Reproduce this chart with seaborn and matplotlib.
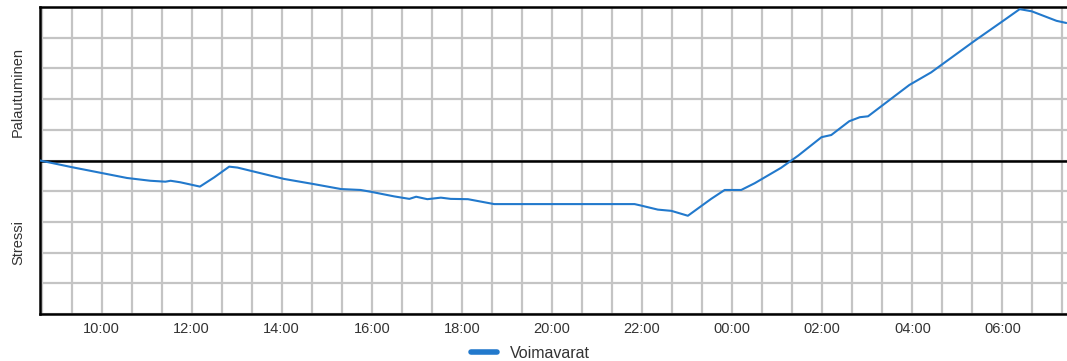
import pandas as pd
import matplotlib
matplotlib.use("Agg")
import matplotlib.pyplot as plt
from matplotlib.lines import Line2D
import seaborn as sns

# time stamps (day 1 = 2023-01-01, day 2 = 2023-01-02) and resource level (-5..5)
times = ["01 08:38", "01 09:21", "01 10:34", "01 11:05", "01 11:25", "01 11:32",
         "01 11:45", "01 12:11", "01 12:30", "01 12:50", "01 13:01", "01 14:03",
         "01 14:43", "01 15:19", "01 15:45", "01 15:59", "01 16:30", "01 16:50",
         "01 16:59", "01 17:14", "01 17:32", "01 17:45", "01 18:08", "01 18:43",
         "01 21:50", "01 21:59", "01 22:21", "01 22:39", "01 23:01", "01 23:32",
         "01 23:50", "02 00:12", "02 00:30", "02 01:05", "02 01:28", "02 01:59",
         "02 02:12", "02 02:36", "02 02:50", "02 03:01", "02 03:36", "02 03:56",
         "02 04:25", "02 05:23", "02 06:01", "02 06:23", "02 06:39", "02 07:12",
         "02 07:25"]
voimavarat = [0.00, -0.22, -0.57, -0.66, -0.69, -0.66,
              -0.71, -0.85, -0.55, -0.20, -0.23, -0.60,
              -0.77, -0.93, -0.96, -1.02, -1.17, -1.25,
              -1.18, -1.26, -1.21, -1.25, -1.26, -1.42,
              -1.42, -1.47, -1.60, -1.64, -1.80, -1.25,
              -0.96, -0.96, -0.74, -0.24, 0.16, 0.76,
              0.83, 1.28, 1.41, 1.44, 2.09, 2.46,
              2.87, 3.90, 4.55, 4.93, 4.86, 4.55,
              4.48]

df = pd.DataFrame({
    "aika": pd.to_datetime(["2023-01-" + t for t in times]),
    "Voimavarat": voimavarat,
})

sns.set_style("white")
plt.rcParams["font.family"] = ["Liberation Sans", "DejaVu Sans"]

line_color = "#2279cc"
fig = plt.figure(figsize=(10.67, 3.61), dpi=100)
ax = fig.add_axes([40 / 1067, 47 / 361, 1 - 40 / 1067, 307 / 361])

sns.lineplot(data=df, x="aika", y="Voimavarat", ax=ax, color=line_color,
             linewidth=1.5, legend=False, zorder=3)

# grid every 40 minutes, labels on even hours
grid_times = pd.date_range("2023-01-01 08:40", "2023-01-02 07:20", freq="40min")
ax.set_xticks(grid_times)
ax.set_xticklabels([t.strftime("%H:%M") if (t.minute == 0 and t.hour % 2 == 0) else ""
                    for t in grid_times])
ax.minorticks_off()
ax.set_yticks(range(-5, 6))
ax.set_yticklabels([])
ax.grid(True, which="major", color="#c4c4c4", linewidth=1.6)
ax.set_axisbelow(True)
ax.axhline(0, color="black", linewidth=1.8, zorder=2)

ax.set_xlim(pd.Timestamp("2023-01-01 08:38"), pd.Timestamp("2023-01-02 07:26"))
ax.set_ylim(-5, 5)
ax.set_xlabel("")
ax.set_ylabel("")

for side in ["top", "left", "bottom"]:
    ax.spines[side].set_color("black")
    ax.spines[side].set_linewidth(1.8)
ax.spines["right"].set_visible(False)
ax.tick_params(axis="x", length=4, width=1.2, color="#444444", labelsize=10.5,
               labelcolor="#333333", pad=1.5)
ax.tick_params(axis="y", length=4, width=1.0, color="#444444", direction="in")

fig.text(0.017, 0.745, "Palautuminen", rotation=90, ha="center", va="center",
         fontsize=10.5, color="#333333")
fig.text(0.017, 0.327, "Stressi", rotation=90, ha="center", va="center",
         fontsize=10.5, color="#333333")

handle = Line2D([], [], color=line_color, linewidth=4)
fig.legend([handle], ["Voimavarat"], loc="lower center",
           bbox_to_anchor=(0.497, -0.04), frameon=False, fontsize=11.5,
           handlelength=1.6, labelcolor="#333333")

fig.savefig("out.png", dpi=100)
